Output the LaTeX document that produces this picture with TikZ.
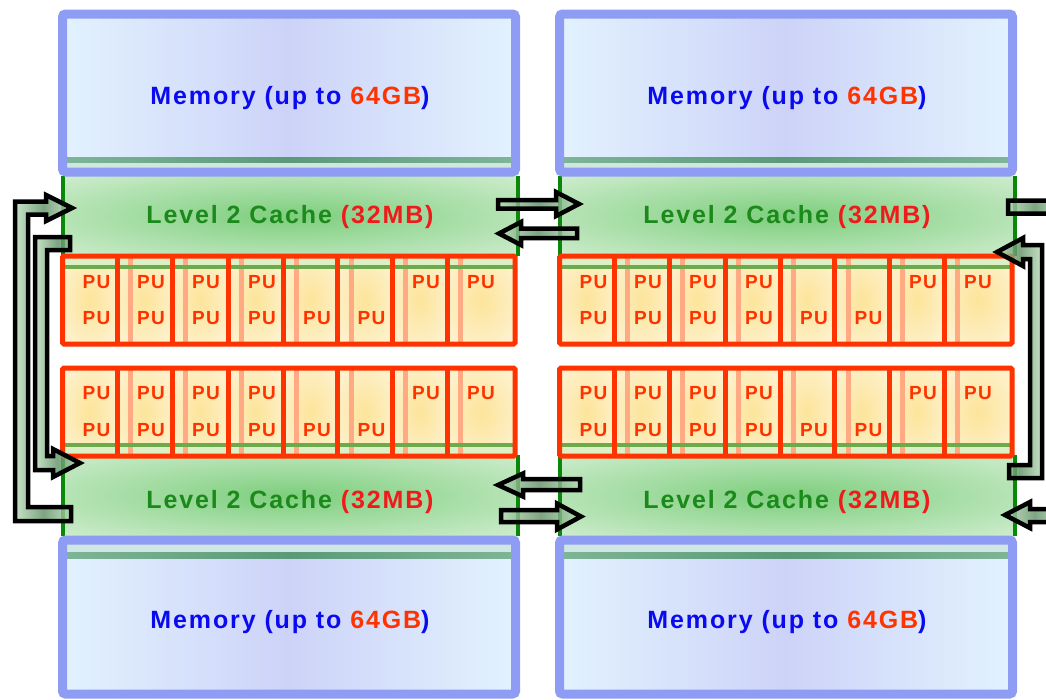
\documentclass[tikz,border=0pt]{standalone}
\usepackage{fontspec}
\setmainfont{Liberation Sans}
\newfontfamily\lblfont[LetterSpace=7.5]{Liberation Sans}
\newfontfamily\pufont[LetterSpace=6]{Liberation Sans}
\definecolor{memborder}{HTML}{8E9CF4}
\definecolor{memedge}{HTML}{E2F2FE}
\definecolor{memmid}{HTML}{CDD3F8}
\definecolor{memline}{HTML}{5A9A78}
\definecolor{memlinelt}{HTML}{7DB596}
\definecolor{memband}{HTML}{CFE6E2}
\definecolor{cachemid}{HTML}{7DCE7D}
\definecolor{cacheout}{HTML}{F0F9EE}
\definecolor{cacheline}{HTML}{0A880A}
\definecolor{pured}{HTML}{FF3300}
\definecolor{stripe}{HTML}{FFAA82}
\definecolor{cellmid}{HTML}{FCE49A}
\definecolor{cellout}{HTML}{FFFAEE}
\definecolor{bankline}{HTML}{6CAA4C}
\definecolor{bankband}{HTML}{DDEFC4}
\definecolor{memtext}{HTML}{0A0AF0}
\definecolor{gbred}{HTML}{FF3300}
\definecolor{cachetext}{HTML}{1B8A1B}
\definecolor{mbred}{HTML}{F01A1A}
\definecolor{arrowlight}{HTML}{B9DBB9}
\definecolor{arrowdark}{HTML}{5D8F63}
\pgfdeclareradialshading{cacheshade}{\pgfpoint{0bp}{0bp}}{color(0bp)=(cachemid); color(50bp)=(cacheout)}
\pgfdeclareradialshading{cellshade}{\pgfpoint{0bp}{0bp}}{color(0bp)=(cellmid); color(50bp)=(cellout)}
\begin{document}
\begin{tikzpicture}[x=1pt,y=-1pt,
  memframe/.style={draw=memborder, line width=9, rounded corners=3},
  memfill/.style={left color=memedge, right color=memedge, middle color=memmid},
  memgreen/.style={left color=memlinelt, right color=memlinelt, middle color=memline},
  cachefill/.style={shading=cacheshade},
  cellfill/.style={shading=cellshade},
  cacheedge/.style={draw=cacheline, line width=4},
  bankframe/.style={draw=pured, line width=5, rounded corners=1.5},
  divider/.style={draw=pured, line width=5},
  greenrule/.style={draw=bankline, line width=4},
  memlabel/.style={inner sep=0, anchor=base, text=memtext, font={\lblfont\bfseries\fontsize{25}{30}\selectfont}},
  cachelabel/.style={inner sep=0, anchor=base, text=cachetext, font={\lblfont\bfseries\fontsize{25}{30}\selectfont}},
  pulabel/.style={inner sep=0, text=pured, font={\pufont\bfseries\fontsize{19}{23}\selectfont}},
  blockarrow/.style={draw=black, line width=4.5, line join=miter, fill opacity=0.8, left color=arrowlight, right color=arrowlight, middle color=arrowdark}
]
\useasboundingbox (0,0) rectangle (1046,699);
\foreach \ox [count=\c] in {0,497} {
  % level 2 caches
  \shade[cachefill] (\ox+62.5,176) rectangle (\ox+517.5,256);
  \shade[cachefill] (\ox+62.5,455) rectangle (\ox+517.5,536);
  \draw[cacheedge] (\ox+62.5,176) -- (\ox+62.5,256);
  \draw[cacheedge] (\ox+517.5,176) -- (\ox+517.5,256);
  \draw[cacheedge] (\ox+62.5,455) -- (\ox+62.5,536);
  \draw[cacheedge] (\ox+517.5,455) -- (\ox+517.5,536);
  % memory top
  \shade[memfill] (\ox+62.5,14) rectangle (\ox+515.5,172);
  \shade[memgreen] (\ox+66,157) rectangle (\ox+512,163);
  \fill[memband] (\ox+66,163) rectangle (\ox+512,168);
  \draw[memframe] (\ox+62.5,14) rectangle (\ox+515.5,172);
  % memory bottom
  \shade[memfill] (\ox+62.5,540) rectangle (\ox+515.5,694);
  \fill[memband] (\ox+66,544) rectangle (\ox+512,552);
  \shade[memgreen] (\ox+66,552) rectangle (\ox+512,558);
  \draw[memframe] (\ox+62.5,540) rectangle (\ox+515.5,694);
  % PU banks
  \foreach \yt/\yb/\gl/\ba/\bb/\ru/\rl in {256/344/267/258/265/282/318, 368/456/445/447/454/393/430} {
    \foreach \a/\b in {62.5/117,117/172,172/228,228/283,283/337.5,337.5/392,392/447,447/515}
      \shade[cellfill] (\ox+\a,\yt) rectangle (\ox+\b,\yb);
    \fill[bankband] (\ox+63,\ba) rectangle (\ox+515,\bb);
    \foreach \a in {117,172,228,283,337.5,392,447}
      \fill[stripe] (\ox+\a+11,\yt) rectangle (\ox+\a+16,\yb);
    \draw[greenrule] (\ox+63,\gl) -- (\ox+515,\gl);
    \foreach \a in {117,172,228,283,337.5,392,447}
      \draw[divider] (\ox+\a,\yt) -- (\ox+\a,\yb);
    \draw[bankframe] (\ox+62.5,\yt) rectangle (\ox+515,\yb);
    \foreach \a [count=\k] in {62.5,117,172,228,392,447}
      \node[pulabel] (pu-\c-\yt-u\k) at (\ox+\a+34,\ru) {PU};
    \foreach \a [count=\k] in {62.5,117,172,228,283,337.5}
      \node[pulabel] (pu-\c-\yt-l\k) at (\ox+\a+34,\rl) {PU};
  }
  % labels
  \node[memlabel] (memtop-\c) at (\ox+290,104.5) {Memory (up to \textcolor{gbred}{64GB})};
  \node[memlabel] (membot-\c) at (\ox+290,628) {Memory (up to \textcolor{gbred}{64GB})};
  \node[cachelabel] (cachetop-\c) at (\ox+290,223) {Level 2 Cache \textcolor{mbred}{(32MB)}};
  \node[cachelabel] (cachebot-\c) at (\ox+290,508) {Level 2 Cache \textcolor{mbred}{(32MB)}};
}
% left bracket arrows
\path[blockarrow] (71,507) -- (28,507) -- (28,214.5) -- (46,214.5) -- (46,221) -- (72,208) -- (46,195) -- (46,201.5) -- (15,201.5) -- (15,521) -- (71,521) -- cycle;
\path[blockarrow] (70,237) -- (35,237) -- (35,470) -- (53,470) -- (53,477) -- (80,463) -- (53,449) -- (53,456) -- (47,456) -- (47,250) -- (70,250) -- cycle;
% right bracket arrows
\path[blockarrow] (1008,200.5) -- (1064,200.5) -- (1064,522) -- (1030,522) -- (1030,528) -- (1005,515) -- (1030,502) -- (1030,509) -- (1050,509) -- (1050,213.5) -- (1008,213.5) -- cycle;
\path[blockarrow] (1009,465) -- (1030,465) -- (1030,259) -- (1023,259) -- (1023,266) -- (997,252) -- (1023,238) -- (1023,245) -- (1042,245) -- (1042,478) -- (1009,478) -- cycle;
% middle arrows
\path[blockarrow] (498,200) -- (556,200) -- (556,192) -- (579,204) -- (556,216) -- (556,208.5) -- (498,208.5) -- cycle;
\path[blockarrow] (577,228.5) -- (521,228.5) -- (521,222) -- (499,233.5) -- (521,245) -- (521,238) -- (577,238) -- cycle;
\path[blockarrow] (580,479) -- (523,479) -- (523,473.5) -- (498,485) -- (523,496.5) -- (523,490) -- (580,490) -- cycle;
\path[blockarrow] (501,510) -- (557,510) -- (557,503.5) -- (581,516.5) -- (557,529.5) -- (557,522) -- (501,522) -- cycle;
\end{tikzpicture}
\end{document}
